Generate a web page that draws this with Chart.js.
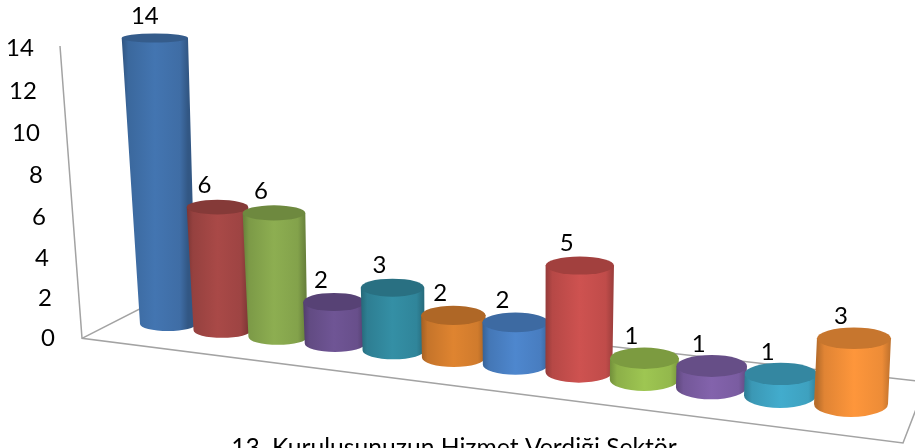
<!DOCTYPE html>
<html>
<head>
<meta charset="utf-8">
<style>
  html, body { margin: 0; padding: 0; background: #fff; width: 915px; height: 448px; overflow: hidden; }
  canvas { display: block; }
</style>
<script src="https://cdn.jsdelivr.net/npm/chart.js@4"></script>
</head>
<body>
<canvas id="chart" width="915" height="464"></canvas>
<script>
const titleText = '13. Kuruluşunuzun Hizmet Verdiği Sektör';
const categories = ['1', '2', '3', '4', '5', '6', '7', '8', '9', '10', '11', '12'];
const values = [14, 6, 6, 2, 3, 2, 2, 5, 1, 1, 1, 3];
const barColors = ['#4273AE', '#A64846', '#8AAB4F', '#6D5392', '#338CA2', '#DB812F',
  '#4C84CA', '#CA504E', '#9BC250', '#8061A9', '#41A9C9', '#F9933A'];

const FONT = 'Lato, sans-serif';

function shade(hex, k) {
  const n = parseInt(hex.slice(1), 16);
  const c = [n >> 16, (n >> 8) & 255, n & 255].map(v => Math.min(255, Math.round(v * k)));
  return `rgb(${c[0]},${c[1]},${c[2]})`;
}

// the 3D look: floor position and size depend on how far along the x scale a bar is
function floorPos(u) {
  const t = u / (u + (1 - u) * 1.159);
  const cx = 168 + 683 * t;
  return { t, cx, cy: 324 + 0.117 * (cx - 168), rx: 28 + 9 * t, depth: 0.985 + 0.07 * t };
}

function topRy(y, t) {
  return 4.5 + 0.016 * (y - 38) + 1.5 * t;
}

const cylinders = {
  id: 'cylinders',
  beforeDatasetDraw() {
    return false; // flat bars are replaced below
  },
  beforeDatasetsDraw(chart) {
    const ctx = chart.ctx;
    const yScale = chart.scales.y;

    // walls and floor
    ctx.save();
    ctx.strokeStyle = '#A3A3A3';
    ctx.lineWidth = 1.5;
    ctx.beginPath();
    ctx.moveTo(60, yScale.getPixelForValue(14) - 2);
    ctx.lineTo(82, yScale.getPixelForValue(0));
    ctx.lineTo(903, 443);
    ctx.lineTo(925, 386);
    ctx.moveTo(82, yScale.getPixelForValue(0));
    ctx.lineTo(165, 296);
    ctx.lineTo(925, 382);
    ctx.stroke();

    // tick labels follow the slanted wall, the middle ones sag a little in perspective
    ctx.fillStyle = '#000';
    ctx.font = '24px ' + FONT;
    ctx.textAlign = 'right';
    ctx.textBaseline = 'middle';
    yScale.ticks.forEach(tick => {
      const y = yScale.getPixelForValue(tick.value);
      const wallX = 82 - (yScale.getPixelForValue(0) - y) * 0.0725;
      const sag = 3 * (1 - Math.pow((tick.value - 7) / 7, 2));
      ctx.fillText(tick.label, wallX - 27, y + sag);
    });
    ctx.restore();
  },
  afterDatasetsDraw(chart) {
    const ctx = chart.ctx;
    const meta = chart.getDatasetMeta(0);
    const xScale = chart.scales.x;
    const x0 = xScale.getPixelForValue(0);
    const x1 = xScale.getPixelForValue(categories.length - 1);

    meta.data.forEach((bar, i) => {
      const f = floorPos((bar.x - x0) / (x1 - x0));
      const h = (bar.base - bar.y) * f.depth;
      const topY = f.cy - h;
      const topX = f.cx + (f.cx - 515) * h / (7870 - f.cy);
      const rxTop = f.rx + h * 0.018 * (1 - f.t);
      const ryTop = topRy(topY, f.t);
      const ryBot = 7 + 6 * f.t;
      const color = barColors[i];

      const g = ctx.createLinearGradient(topX - rxTop, 0, topX + rxTop, 0);
      g.addColorStop(0, shade(color, 0.74));
      g.addColorStop(0.1, shade(color, 0.9));
      g.addColorStop(0.5, shade(color, 1.02));
      g.addColorStop(0.88, shade(color, 0.95));
      g.addColorStop(1, shade(color, 0.76));

      ctx.save();
      ctx.fillStyle = g;
      ctx.beginPath();
      ctx.moveTo(topX - rxTop, topY);
      ctx.lineTo(f.cx - f.rx, f.cy);
      ctx.ellipse(f.cx, f.cy, f.rx, ryBot, 0, Math.PI, 0, true);
      ctx.lineTo(topX + rxTop, topY);
      ctx.closePath();
      ctx.fill();

      ctx.fillStyle = shade(color, 0.8);
      ctx.beginPath();
      ctx.ellipse(topX, topY, rxTop, ryTop, 0, 0, Math.PI * 2);
      ctx.fill();

      // value label
      const label = String(values[i]);
      ctx.fillStyle = '#000';
      ctx.font = '24px ' + FONT;
      ctx.textAlign = 'center';
      ctx.textBaseline = 'middle';
      ctx.fillText(label, topX - 13 + (label.length - 1) * 3, topY - 22);
      ctx.restore();
    });
  }
};

new Chart(document.getElementById('chart'), {
  type: 'bar',
  data: {
    labels: categories,
    datasets: [{ data: values, backgroundColor: barColors }]
  },
  options: {
    responsive: false,
    animation: false,
    layout: { padding: { top: 48, bottom: 0, left: 0, right: 7 } },
    plugins: {
      legend: { display: false },
      tooltip: { enabled: false },
      title: {
        display: true,
        text: titleText,
        position: 'bottom',
        color: '#000',
        font: { family: FONT, size: 24.7, weight: 'normal' },
        padding: { top: 95, bottom: 1 }
      }
    },
    scales: {
      x: { display: false },
      y: {
        min: 0,
        max: 14,
        grid: { display: false },
        border: { display: false },
        ticks: { display: false, stepSize: 2 }
      }
    }
  },
  plugins: [cylinders]
});
</script>
</body>
</html>
